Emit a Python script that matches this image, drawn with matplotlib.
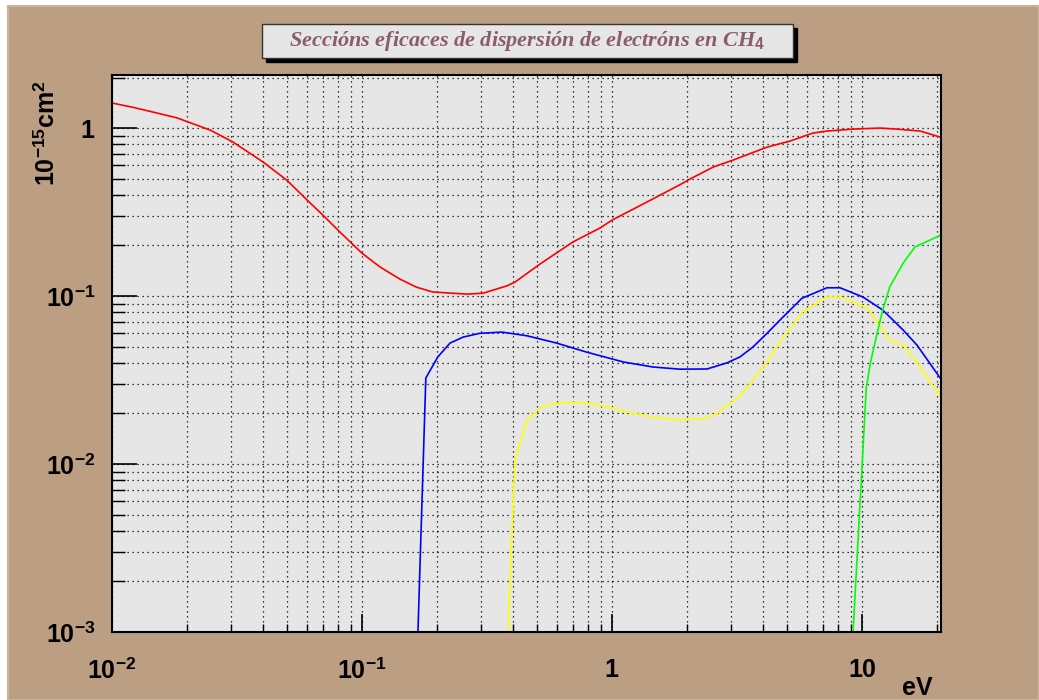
import matplotlib
matplotlib.use("Agg")
import matplotlib.pyplot as plt
from matplotlib.patches import Rectangle

plt.rcParams['mathtext.fontset'] = 'custom'
plt.rcParams['mathtext.rm'] = 'Liberation Sans:bold'
plt.rcParams['mathtext.it'] = 'Liberation Serif:bold:italic'
plt.rcParams['mathtext.bf'] = 'Liberation Sans:bold'

# cross sections, 10^-15 cm^2, vs electron energy in eV
red_x = [0.01, 0.0121, 0.0146, 0.0182, 0.0247, 0.0305, 0.0402, 0.050, 0.0603, 0.0698,
         0.0817, 0.1, 0.118, 0.142, 0.165, 0.192, 0.263, 0.305, 0.38, 0.409, 0.515, 0.698, 0.895,
         1.0, 1.38, 1.87, 2.05, 2.54, 3.05, 4.17, 5.15, 6.37, 7.24, 9.2, 11.8, 13.8, 17.1, 20.5]
red_y = [1.41, 1.33, 1.245, 1.15, 0.973, 0.825, 0.628, 0.49, 0.373, 0.303,
         0.240, 0.180, 0.149, 0.126, 0.113, 0.1057, 0.1027, 0.104, 0.115, 0.121, 0.155, 0.21, 0.254,
         0.283, 0.363, 0.46, 0.497, 0.586, 0.645, 0.77, 0.837, 0.934, 0.96, 0.986, 1.0, 0.986, 0.96, 0.884]

blue_x = [0.165, 0.180, 0.201, 0.225, 0.254, 0.296, 0.363, 0.457, 0.60, 0.79, 1.11, 1.46,
          1.87, 2.40, 2.88, 3.25, 3.66, 4.17, 4.70, 5.75, 7.24, 8.17, 10.1, 12.1, 14.6, 16.6, 20.7]
blue_y = [5e-4, 0.0325, 0.0434, 0.0525, 0.057, 0.060, 0.061, 0.058, 0.0525, 0.0464, 0.0405, 0.0378,
          0.0367, 0.0368, 0.040, 0.0434, 0.0497, 0.060, 0.072, 0.097, 0.112, 0.112, 0.0986, 0.0826,
          0.0628, 0.051, 0.032]

yellow_x = [0.38, 0.409, 0.457, 0.515, 0.58, 0.68, 0.84, 1.0, 1.15, 1.46, 1.87, 2.29, 2.63,
            3.25, 3.66, 4.17, 4.70, 5.75, 7.24, 8.17, 10.5, 12.9, 14.6, 16.6, 20.7]
yellow_y = [7e-4, 0.0106, 0.0183, 0.0216, 0.0228, 0.0234, 0.0228, 0.0216, 0.0204, 0.019, 0.0183,
            0.0185, 0.020, 0.0254, 0.0316, 0.0405, 0.0532, 0.080, 0.0986, 0.0986, 0.085, 0.0547,
            0.051, 0.040, 0.025]

green_x = [9.04, 10.4, 10.8, 11.5, 12.1, 12.9, 14.6, 16.3, 20.7]
green_y = [6e-4, 0.0283, 0.040, 0.0603, 0.0826, 0.113, 0.157, 0.196, 0.231]

xticks = [0.01, 0.1, 1, 10]
xticklabels = [r'$10^{-2}$', r'$10^{-1}$', r'$1$', r'$10$']
yticks = [1e-3, 1e-2, 1e-1, 1]
yticklabels = [r'$10^{-3}$', r'$10^{-2}$', r'$10^{-1}$', r'$1$']

tan = '#bc9e82'
fig = plt.figure(figsize=(10.39, 7), dpi=100)
fig.patch.set_facecolor('white')
#canvas background, leaves thin white strip at left/top
fig.patches.append(Rectangle((8/1039, 0), 1 - 8/1039, 1 - 6/700, transform=fig.transFigure,
                             facecolor=tan, edgecolor='#cdb39b', linewidth=1.5, zorder=-10))

ax = fig.add_axes([112/1039, 1 - 632/700, (941-112)/1039, (632-75)/700])
ax.set_facecolor('#e6e6e6')
ax.set_xscale('log')
ax.set_yscale('log')

ax.plot(red_x, red_y, color='#ff0000', linewidth=1.2)
ax.plot(blue_x, blue_y, color='#0000ff', linewidth=1.2)
ax.plot(yellow_x, yellow_y, color='#ffff00', linewidth=1.2)
ax.plot(green_x, green_y, color='#00ff00', linewidth=1.2)

ax.set_xlim(0.01, 20.7)
ax.set_ylim(1e-3, 2.07)

ax.set_xticks(xticks)
ax.set_xticklabels(xticklabels)
ax.set_yticks(yticks)
ax.set_yticklabels(yticklabels)

ax.grid(True, which='both', color='black', linestyle=(0, (1, 3)), linewidth=0.9)
ax.tick_params(axis='both', which='both', direction='in', labelsize=18, color='black')
ax.tick_params(axis='x', which='major', length=13, width=1.2, pad=19)
ax.tick_params(axis='x', which='minor', length=6, width=1.0)
ax.tick_params(axis='y', which='major', length=18, width=1.2, pad=12)
ax.tick_params(axis='y', which='minor', length=9, width=1.0)
for s in ax.spines.values():
    s.set_linewidth(1.5)

fig.text(47/1039, 1 - 133/700, r'$10^{-15}\mathrm{cm}^{2}$', rotation=90, ha='center', va='center',
         fontsize=18)
fig.text(933/1039, 1 - 695/700, 'eV', ha='right', va='baseline', fontsize=18,
         family='Liberation Sans', weight='bold')

#title box with shadow
fig.patches.append(Rectangle((266/1039, 1 - 62/700), 531/1039, 34/700, transform=fig.transFigure,
                             facecolor='black', edgecolor='black', zorder=5))
fig.patches.append(Rectangle((262/1039, 1 - 58/700), 531/1039, 34/700, transform=fig.transFigure,
                             facecolor='#e6e6e6', edgecolor='#333333', linewidth=1, zorder=6))
fig.text(527/1039, 1 - 41/700, r'Seccións eficaces de dispersión de electróns en CH$_\mathit{4}$',
         ha='center', va='center', fontsize=16, family='Liberation Serif', weight='bold',
         style='italic', color='#8c5c6c', zorder=7)

fig.savefig('out.png', dpi=100)
